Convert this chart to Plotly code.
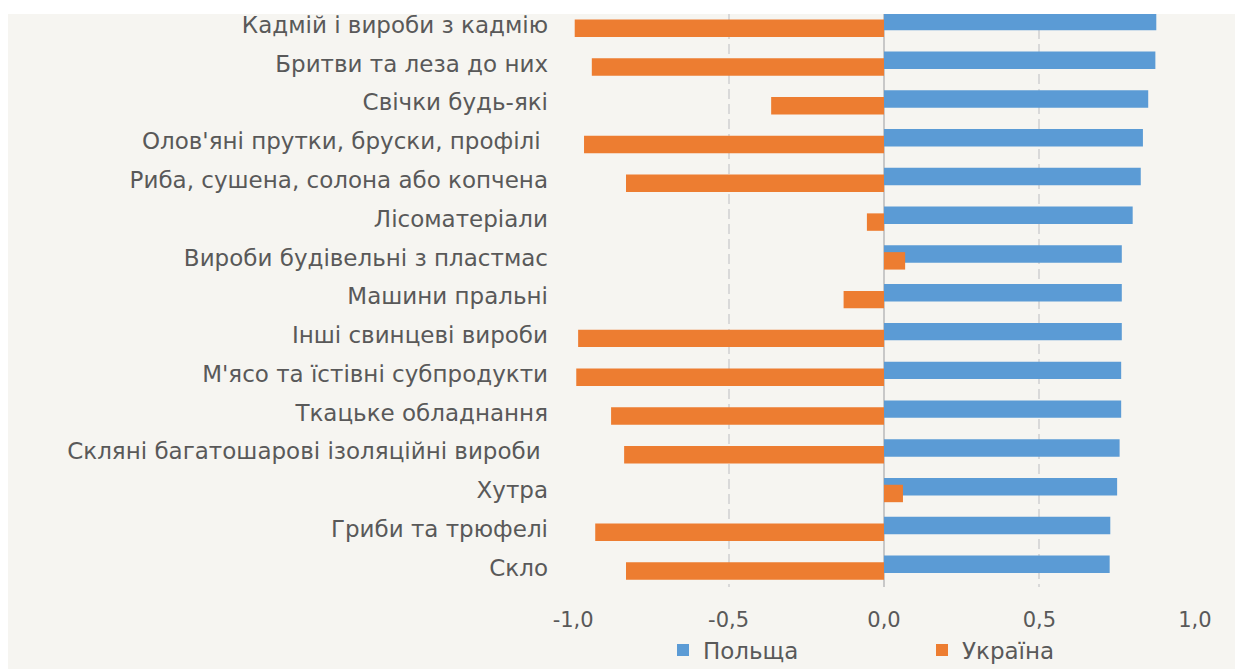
import plotly.graph_objects as go

categories = [
    "Кадмій і вироби з кадмію",
    "Бритви та леза до них",
    "Свічки будь-які",
    "Олов'яні прутки, бруски, профілі\u00a0",
    "Риба, сушена, солона або копчена",
    "Лісоматеріали",
    "Вироби будівельні з пластмас",
    "Машини пральні",
    "Інші свинцеві вироби",
    "М'ясо та їстівні субпродукти",
    "Ткацьке обладнання",
    "Скляні багатошарові ізоляційні вироби\u00a0",
    "Хутра",
    "Гриби та трюфелі",
    "Скло",
]
poland = [0.876, 0.873, 0.850, 0.833, 0.826, 0.800, 0.765, 0.765, 0.765, 0.763,
          0.763, 0.758, 0.750, 0.728, 0.726]
ukraine = [-0.995, -0.940, -0.363, -0.965, -0.830, -0.055, 0.068, -0.130, -0.984,
           -0.990, -0.878, -0.836, 0.061, -0.929, -0.830]
tick_vals = [-1.0, -0.5, 0.0, 0.5, 1.0]
tick_text = ["-1,0", "-0,5", "0,0", "0,5", "1,0"]
series_names = ["Польща", "Україна"]

BLUE = "#5B9BD5"
ORANGE = "#ED7D31"
BG = "#F6F5F1"
TXT = "#595959"
FONT = "DejaVu Sans"

# page body has an 8px margin, the figure sits at (8, 8)
W, H = 1235, 661
L, R, T, B = 565, 48, 6, 82
plot_w = W - L - R
plot_h = H - T - B

fig = go.Figure()
fig.add_trace(go.Bar(
    y=categories, x=poland, orientation="h", name=series_names[0],
    marker=dict(color=BLUE, line=dict(width=0)),
    width=0.45, offset=-0.3125,
))
fig.add_trace(go.Bar(
    y=categories, x=ukraine, orientation="h", name=series_names[1],
    marker=dict(color=ORANGE, line=dict(width=0)),
    width=0.45, offset=-0.1375,
))

fig.update_layout(
    width=W, height=H,
    margin=dict(l=L, r=R, t=T, b=B, pad=0, autoexpand=False),
    paper_bgcolor=BG, plot_bgcolor=BG,
    barmode="overlay",
    font=dict(family=FONT, color=TXT, size=23),
    showlegend=True,
    legend=dict(
        orientation="h", x=(655 - L) / plot_w, xanchor="left",
        y=-(642 - 579) / plot_h, yanchor="middle",
        font=dict(family=FONT, size=23, color=TXT),
        bgcolor="rgba(0,0,0,0)", entrywidth=214, entrywidthmode="pixels",
        traceorder="normal",
    ),
    xaxis=dict(
        range=[-1.0005, 1.0005], tickvals=tick_vals, ticktext=tick_text,
        showgrid=True, gridcolor="#D9D9D9", griddash="10px,5px", gridwidth=1.5,
        zeroline=True, zerolinecolor="#C8C8C8", zerolinewidth=1.5,
        showline=False, ticks="", ticklabelstandoff=18,
        tickfont=dict(family=FONT, size=21, color=TXT),
        fixedrange=True, automargin=False,
    ),
    yaxis=dict(
        type="category", categoryorder="array", categoryarray=categories,
        range=[14.5, -0.28], autorange=False,
        showgrid=False, zeroline=False, showline=False, ticks="",
        ticklabelstandoff=24,
        tickfont=dict(family=FONT, size=23, color=TXT),
        fixedrange=True, automargin=False,
    ),
    shapes=[
        dict(type="rect", xref="paper", yref="paper", layer="above",
             x0=-2, x1=2, y0=1, y1=1.2, fillcolor="white", line=dict(width=0)),
    ],
)

fig.write_html("out.html")
